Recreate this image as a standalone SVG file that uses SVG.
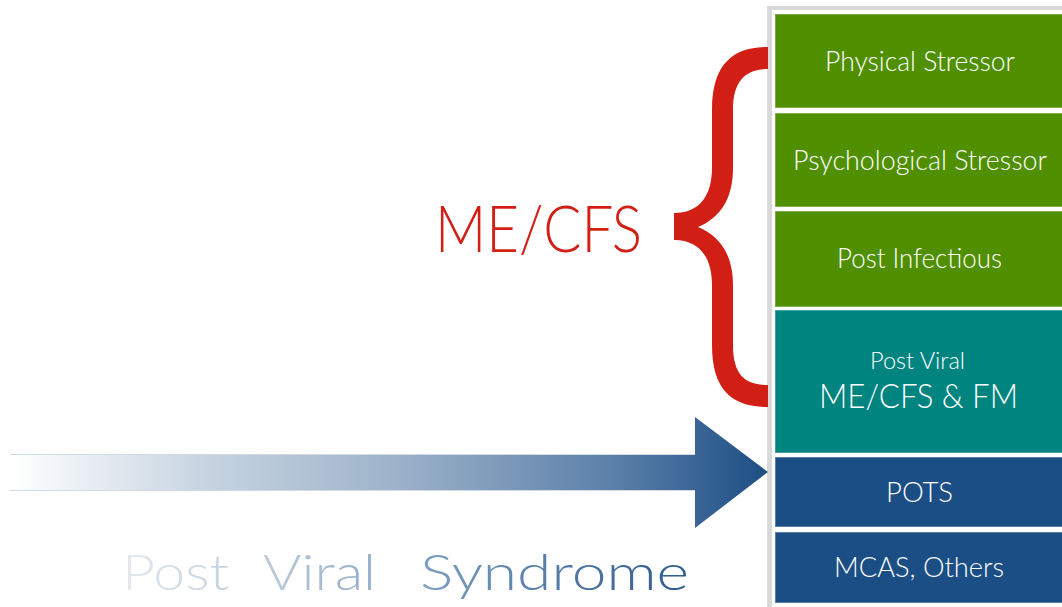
<svg xmlns="http://www.w3.org/2000/svg" width="1062" height="607" viewBox="0 0 1062 607">
  <defs>
    <style>
      .lbl { font-family: Lato, "Open Sans", "Liberation Sans", sans-serif; font-weight: 300; fill: #ffffff; text-anchor: middle; }
      .box { stroke-width: 1; }
      .green { fill: #4f8f00; stroke: #7fae44; }
      .teal { fill: #00847f; stroke: #3fa39f; }
      .navy { fill: #1c4e86; stroke: #5a7ea6; }
    </style>
    <linearGradient id="shaftGrad" gradientUnits="userSpaceOnUse" x1="10" y1="0" x2="768" y2="0">
      <stop offset="0" stop-color="#ffffff"/>
      <stop offset="0.25" stop-color="#c8d5e2"/>
      <stop offset="0.5" stop-color="#9fb4cb"/>
      <stop offset="0.8" stop-color="#5a7fa8"/>
      <stop offset="1" stop-color="#1d4e85"/>
    </linearGradient>
    <linearGradient id="titleGrad" gradientUnits="userSpaceOnUse" x1="122" y1="0" x2="689" y2="0">
      <stop offset="0" stop-color="#e4e9ef"/>
      <stop offset="0.3" stop-color="#b3c4d7"/>
      <stop offset="0.55" stop-color="#7b9bbe"/>
      <stop offset="1" stop-color="#2c5a8f"/>
    </linearGradient>
  </defs>

  <rect width="1062" height="607" fill="#ffffff"/>

  <!-- stacked column frame -->
  <g id="column-frame">
    <rect x="767" y="6" width="300" height="605" fill="#d9d9d9"/>
    <rect x="772" y="10" width="295" height="601" fill="#ffffff"/>
  </g>

  <g id="node-physical">
    <rect class="box green" x="775.5" y="14.5" width="292" height="93"/>
    <text class="lbl" x="920" y="71" font-size="28" textLength="190" lengthAdjust="spacingAndGlyphs">Physical Stressor</text>
  </g>
  <g id="node-psychological">
    <rect class="box green" x="775.5" y="113.5" width="292" height="93"/>
    <text class="lbl" x="920" y="170" font-size="28" textLength="254" lengthAdjust="spacingAndGlyphs">Psychological Stressor</text>
  </g>
  <g id="node-infectious">
    <rect class="box green" x="775.5" y="211.5" width="292" height="95"/>
    <text class="lbl" x="919.5" y="268" font-size="28" textLength="165" lengthAdjust="spacingAndGlyphs">Post Infectious</text>
  </g>
  <g id="node-postviral">
    <rect class="box teal" x="775.5" y="310.5" width="292" height="142"/>
    <text class="lbl" x="917.5" y="369" font-size="23" textLength="95" lengthAdjust="spacingAndGlyphs">Post Viral</text>
    <text class="lbl" x="918.5" y="408" font-size="33" textLength="199" lengthAdjust="spacingAndGlyphs">ME/CFS &amp; FM</text>
  </g>
  <g id="node-pots">
    <rect class="box navy" x="775.5" y="457.5" width="292" height="69"/>
    <text class="lbl" x="919.5" y="502" font-size="28" textLength="67" lengthAdjust="spacingAndGlyphs">POTS</text>
  </g>
  <g id="node-mcas">
    <rect class="box navy" x="775.5" y="532.5" width="292" height="70"/>
    <text class="lbl" x="919" y="577" font-size="28" textLength="170" lengthAdjust="spacingAndGlyphs">MCAS, Others</text>
  </g>

  <g id="connectors">
    <!-- curly brace grouping the ME/CFS causes -->
    <path fill="#d21f16" d="M768,47 C735,47 712,62 712,110 L712,168 C712,195 700,213 674,213 L674,240 C700,240 712,258 712,285 L712,345 C712,393 735,407 768,407 L768,385 C746,385 733,376 733,345 L733,285 C733,255 720,236 698,227 C720,218 733,199 733,168 L733,110 C733,80 746,69 768,69 Z"/>
    <!-- progression arrow -->
    <polygon fill="url(#shaftGrad)" points="10,454 695,454 695,417 768,472 695,528 695,491 10,491"/>
    <line x1="10" y1="454.5" x2="695" y2="454.5" stroke="#d4dae1" stroke-width="1"/>
    <line x1="10" y1="490.5" x2="695" y2="490.5" stroke="#d4dae1" stroke-width="1"/>
  </g>

  <g id="label-mecfs">
    <text x="435" y="252" font-family="Lato, 'Open Sans', 'Liberation Sans', sans-serif" font-weight="300" font-size="65" fill="#d21f16" textLength="207" lengthAdjust="spacingAndGlyphs">ME/CFS</text>
  </g>

  <g id="label-post-viral-syndrome" font-family="Lato, 'Open Sans', 'Liberation Sans', sans-serif" font-weight="300" font-size="50" fill="url(#titleGrad)">
    <text x="122" y="590" textLength="107" lengthAdjust="spacingAndGlyphs">Post</text>
    <text x="263" y="590" textLength="113" lengthAdjust="spacingAndGlyphs">Viral</text>
    <text x="420" y="590" textLength="269" lengthAdjust="spacingAndGlyphs">Syndrome</text>
  </g>
</svg>
